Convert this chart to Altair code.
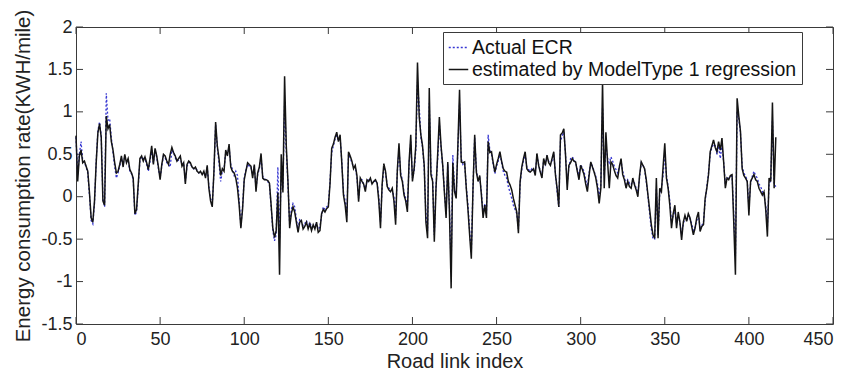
import altair as alt
import pandas as pd

# Energy consumption rate per road link (KWH/mile)
estimated = [
    0.72, 0.18, 0.48, 0.55, 0.40, 0.42, 0.36, 0.30, 0.05, -0.25,
    -0.30, -0.05, 0.40, 0.75, 0.86, 0.70, -0.05, -0.10, 0.95, 0.80,
    0.85, 0.65, 0.55, 0.40, 0.28, 0.30, 0.38, 0.48, 0.35, 0.50,
    0.40, 0.45, 0.32, 0.28, 0.22, -0.20, -0.15, 0.15, 0.45, 0.48,
    0.42, 0.47, 0.40, 0.32, 0.45, 0.60, 0.38, 0.57, 0.48, 0.35,
    0.20, 0.38, 0.50, 0.48, 0.42, 0.38, 0.50, 0.58, 0.52, 0.48,
    0.42, 0.45, 0.48, 0.36, 0.40, 0.15, 0.38, 0.42, 0.40, 0.35,
    0.33, 0.35, 0.30, 0.28, 0.30, 0.26, 0.30, 0.22, 0.37, 0.10,
    -0.05, -0.12, 0.30, 0.88, 0.60, 0.45, 0.25, 0.33, 0.30, 0.55,
    0.48, 0.62, 0.35, 0.30, 0.28, 0.22, 0.10, -0.10, -0.37, -0.15,
    0.20, 0.30, 0.40, 0.38, 0.36, 0.22, 0.38, 0.06, 0.28, 0.35,
    0.51, 0.22, 0.20, 0.20, 0.19, 0.16, -0.10, -0.37, -0.48, -0.40,
    0.05, -0.92, 0.50, 0.05, 1.42, 0.60, 0.18, -0.37, -0.20, -0.12,
    -0.18, -0.30, -0.42, -0.30, -0.28, -0.38, -0.35, -0.30, -0.38, -0.32,
    -0.40, -0.33, -0.38, -0.30, -0.42, -0.40, -0.20, -0.15, -0.18, -0.14,
    -0.12, 0.15, 0.57, 0.62, 0.70, 0.76, 0.65, 0.73, 0.40, 0.02,
    -0.10, -0.30, 0.53, 0.48, 0.42, 0.33, 0.37, 0.25, -0.06, 0.22,
    0.18, 0.15, 0.06, 0.20, 0.18, 0.22, 0.15, 0.18, 0.20, 0.16,
    -0.05, -0.37, 0.15, 0.39, 0.30, 0.12, 0.08, 0.06, 0.10, -0.05,
    -0.33, 0.31, 0.63, 0.25, 0.18, 0.02, -0.05, -0.18, 0.41, 0.73,
    0.18, 0.33, 0.60, 1.58, 0.95, 0.73, 0.60, 0.37, -0.30, -0.49,
    1.28, 0.26, 0.18, -0.53, 0.10, 0.50, 0.94, 0.60, 0.37, 0.05,
    -0.25, 0.41, -0.18, -1.08, 0.40, 0.06, -0.02, 0.60, 1.26, 0.41,
    0.40, 0.41, 0.10, -0.15, -0.45, -0.73, 0.10, 0.73, 0.29, 0.18,
    0.25, 0.02, -0.25, -0.10, -0.25, 0.65, 0.52, 0.53, 0.40, 0.29,
    0.38, 0.45, 0.53, 0.42, 0.33, 0.30, 0.29, 0.18, 0.14, 0.08,
    -0.02, -0.10, -0.18, -0.43, 0.18, 0.35, 0.45, 0.53, 0.33, 0.30,
    0.29, 0.31, 0.33, 0.25, 0.51, 0.37, 0.29, 0.22, 0.45, 0.37,
    0.49, 0.40, 0.37, 0.45, 0.53, 0.26, 0.10, -0.12, 0.73, 0.75,
    0.80, 0.49, 0.08, 0.37, 0.40, 0.45, 0.42, 0.41, 0.30, 0.20,
    0.37, 0.32, 0.26, 0.15, 0.06, 0.25, 0.41, 0.35, 0.29, 0.22,
    0.10, -0.08, 0.10, 1.36, 0.10, 0.76, 0.41, 0.10, 0.41, 0.38,
    0.31, 0.25, 0.22, 0.35, 0.45, 0.26, 0.20, 0.10, 0.18, 0.12,
    0.10, 0.22, 0.14, 0.08, 0.00, 0.25, 0.41, 0.37, 0.33, 0.20,
    0.02, -0.15, -0.33, -0.45, -0.49, 0.22, -0.49, 0.10, 0.06, 0.35,
    0.63, 0.22, 0.10, -0.10, -0.37, -0.20, -0.10, -0.37, -0.18, -0.30,
    -0.51, -0.30, -0.22, -0.29, -0.20, -0.25, -0.35, -0.45, -0.37, -0.25,
    -0.18, -0.41, -0.35, -0.33, -0.02, 0.10, 0.26, 0.53, 0.60, 0.67,
    0.58, 0.53, 0.65, 0.55, 0.69, 0.41, 0.10, 0.22, 0.20, 0.25,
    0.26, -0.30, -0.92, 1.16, 0.95, 0.77, 0.33, 0.25, 0.22, 0.18,
    -0.22, 0.18, 0.22, 0.26, 0.20, 0.18, 0.10, 0.06, 0.02, 0.06,
    -0.15, -0.47, 0.22, 0.18, 1.11, 0.10, 0.70,
]

actual = [
    0.70, 0.25, 0.50, 0.65, 0.42, 0.40, 0.35, 0.28, 0.02, -0.28,
    -0.32, -0.08, 0.42, 0.78, 0.88, 0.72, -0.02, -0.12, 1.22, 0.90,
    0.92, 0.70, 0.52, 0.35, 0.22, 0.28, 0.36, 0.45, 0.37, 0.48,
    0.42, 0.43, 0.30, 0.27, 0.20, -0.22, -0.18, 0.12, 0.43, 0.47,
    0.45, 0.45, 0.38, 0.30, 0.42, 0.55, 0.40, 0.55, 0.46, 0.33,
    0.22, 0.36, 0.48, 0.46, 0.40, 0.38, 0.35, 0.55, 0.52, 0.46,
    0.42, 0.43, 0.46, 0.38, 0.40, 0.18, 0.36, 0.40, 0.40, 0.34,
    0.33, 0.34, 0.31, 0.28, 0.29, 0.27, 0.28, 0.24, 0.35, 0.12,
    -0.02, -0.10, 0.28, 0.85, 0.58, 0.40, 0.18, 0.30, 0.32, 0.52,
    0.50, 0.58, 0.38, 0.32, 0.25, 0.30, 0.25, -0.05, -0.35, -0.12,
    0.22, 0.32, 0.38, 0.36, 0.35, 0.25, 0.36, 0.10, 0.26, 0.33,
    0.48, 0.24, 0.21, 0.20, 0.18, 0.14, -0.12, -0.40, -0.52, -0.45,
    0.35, -0.50, 0.30, 0.10, 1.10, 0.55, 0.15, -0.32, -0.15, -0.08,
    -0.12, -0.26, -0.38, -0.26, -0.30, -0.34, -0.32, -0.28, -0.35, -0.30,
    -0.36, -0.35, -0.34, -0.32, -0.38, -0.36, -0.22, -0.12, -0.15, -0.12,
    -0.10, 0.18, 0.52, 0.60, 0.68, 0.72, 0.66, 0.70, 0.42, 0.05,
    -0.05, -0.22, 0.50, 0.46, 0.40, 0.35, 0.35, 0.22, -0.02, 0.20,
    0.20, 0.14, 0.10, 0.18, 0.20, 0.20, 0.16, 0.18, 0.18, 0.17,
    0.00, -0.30, 0.12, 0.35, 0.28, 0.14, 0.10, 0.08, 0.08, 0.00,
    -0.25, 0.28, 0.55, 0.28, 0.20, 0.05, -0.02, -0.12, 0.38, 0.65,
    0.22, 0.30, 0.55, 1.35, 1.07, 0.70, 0.58, 0.35, -0.20, -0.40,
    1.10, 0.30, 0.20, -0.45, 0.12, 0.45, 0.85, 0.58, 0.35, 0.08,
    -0.20, 0.38, -0.12, -0.85, 0.49, 0.10, 0.02, 0.55, 1.10, 0.45,
    0.38, 0.40, 0.12, -0.10, -0.40, -0.65, 0.12, 0.70, 0.32, 0.20,
    0.22, 0.05, -0.20, -0.08, -0.20, 0.73, 0.55, 0.50, 0.38, 0.27,
    0.36, 0.42, 0.50, 0.40, 0.30, 0.25, 0.22, 0.12, 0.05, -0.02,
    -0.10, -0.15, -0.20, -0.38, 0.15, 0.32, 0.42, 0.50, 0.35, 0.32,
    0.30, 0.33, 0.32, 0.28, 0.48, 0.38, 0.30, 0.25, 0.43, 0.38,
    0.47, 0.42, 0.38, 0.43, 0.50, 0.28, 0.05, -0.12, 0.65, 0.72,
    0.76, 0.50, 0.15, 0.35, 0.45, 0.47, 0.44, 0.40, 0.32, 0.25,
    0.38, 0.34, 0.30, 0.20, 0.12, 0.28, 0.40, 0.36, 0.30, 0.24,
    0.15, 0.00, 0.15, 1.05, 0.25, 0.60, 0.45, 0.40, 0.47, 0.42,
    0.36, 0.32, 0.28, 0.36, 0.42, 0.30, 0.22, 0.15, 0.20, 0.16,
    0.14, 0.20, 0.16, 0.10, 0.05, 0.22, 0.40, 0.38, 0.32, 0.18,
    0.00, -0.20, -0.38, -0.50, -0.50, 0.10, -0.45, 0.05, 0.10, 0.25,
    0.50, 0.25, 0.12, -0.05, -0.30, -0.22, -0.15, -0.32, -0.22, -0.30,
    -0.45, -0.32, -0.25, -0.28, -0.22, -0.26, -0.32, -0.40, -0.36, -0.28,
    -0.22, -0.36, -0.34, -0.30, -0.05, 0.12, 0.28, 0.50, 0.58, 0.62,
    0.60, 0.50, 0.60, 0.45, 0.62, 0.40, 0.15, 0.22, 0.22, 0.24,
    0.24, -0.20, -0.70, 1.00, 0.92, 0.75, 0.36, 0.28, 0.24, 0.20,
    -0.12, 0.15, 0.24, 0.30, 0.25, 0.22, 0.15, 0.12, 0.06, 0.02,
    -0.10, -0.35, 0.15, 0.20, 0.90, 0.15, 0.12,
]

series_names = ["Actual ECR", "estimated by ModelType 1 regression"]
series_colors = ["#3535d2", "#141414"]
x_ticks = [0, 50, 100, 150, 200, 250, 300, 350, 400, 450]
y_ticks = [-1.5, -1, -0.5, 0, 0.5, 1, 1.5, 2]

W, H = 757, 297
FONT = "Liberation Sans"
TICK_LEN = 7
FRAME = "#3a3a3a"

rows = []
for name, vals in zip(series_names, [actual, estimated]):
    for i, v in enumerate(vals):
        rows.append({"idx": i, "value": v, "series": name})
df = pd.DataFrame(rows)

x_scale = alt.Scale(domain=[0, 450], nice=False, zero=False)
y_scale = alt.Scale(domain=[-1.5, 2], nice=False, zero=False)

color = alt.Color(
    "series:N",
    scale=alt.Scale(domain=series_names, range=series_colors),
    legend=alt.Legend(
        title=None,
        orient="none",
        legendX=367,
        legendY=5,
        fillColor="white",
        strokeColor=FRAME,
        padding=5,
        symbolType="stroke",
        symbolSize=380,
        symbolStrokeWidth=1.4,
        labelFont=FONT,
        labelFontSize=19.5,
        labelColor="#111",
        labelOffset=3,
        rowPadding=2,
        labelLimit=500,
    ),
)
dash = alt.StrokeDash(
    "series:N",
    scale=alt.Scale(domain=series_names, range=[[2, 2], [1, 0]]),
    legend=None,
)

x_axis = alt.Axis(
    values=x_ticks, tickSize=0, domain=False, grid=False,
    labelFont=FONT, labelFontSize=18, labelColor="#222", labelPadding=6,
    labelExpr="'' + datum.value",
    title="Road link index", titleFont=FONT, titleFontSize=20,
    titleFontWeight="normal", titleColor="#222", titlePadding=3,
)
y_axis = alt.Axis(
    values=y_ticks, tickSize=0, domain=False, grid=False,
    labelFont=FONT, labelFontSize=18, labelColor="#222", labelPadding=4,
    labelExpr="'' + datum.value",
    title="Energy consumption rate(KWH/mile)", titleFont=FONT, titleFontSize=20.5,
    titleFontWeight="normal", titleColor="#222", titlePadding=7,
)

base = alt.Chart(df)

actual_line = base.transform_filter(alt.datum.series == series_names[0]).mark_line(
    strokeWidth=1.3
).encode(
    x=alt.X("idx:Q", scale=x_scale, axis=x_axis),
    y=alt.Y("value:Q", scale=y_scale, axis=y_axis),
    color=color,
    strokeDash=dash,
)

est_line = base.transform_filter(alt.datum.series == series_names[1]).mark_line(
    strokeWidth=1.5
).encode(
    x=alt.X("idx:Q", scale=x_scale),
    y=alt.Y("value:Q", scale=y_scale),
    color=color,
    strokeDash=dash,
)

# inward tick marks on all four sides of the box
xt = pd.DataFrame({"t": x_ticks})
yt = pd.DataFrame({"t": y_ticks})
tick_style = dict(color=FRAME, strokeWidth=1)
x_bottom = alt.Chart(xt).mark_rule(**tick_style).encode(
    x=alt.X("t:Q", scale=x_scale), y=alt.value(H), y2=alt.value(H - TICK_LEN))
x_top = alt.Chart(xt).mark_rule(**tick_style).encode(
    x=alt.X("t:Q", scale=x_scale), y=alt.value(0), y2=alt.value(TICK_LEN))
y_left = alt.Chart(yt).mark_rule(**tick_style).encode(
    y=alt.Y("t:Q", scale=y_scale), x=alt.value(0), x2=alt.value(TICK_LEN))
y_right = alt.Chart(yt).mark_rule(**tick_style).encode(
    y=alt.Y("t:Q", scale=y_scale), x=alt.value(W - TICK_LEN), x2=alt.value(W))

chart = alt.layer(
    x_bottom, x_top, y_left, y_right, actual_line, est_line
).properties(
    width=W,
    height=H,
    padding={"left": 76, "top": 27, "right": 15, "bottom": 46},
    autosize=alt.AutoSizeParams(type="none"),
    background="white",
).configure_view(
    stroke=FRAME, strokeWidth=1
)

chart.save("out.html", embed_options={"renderer": "svg", "actions": False})
